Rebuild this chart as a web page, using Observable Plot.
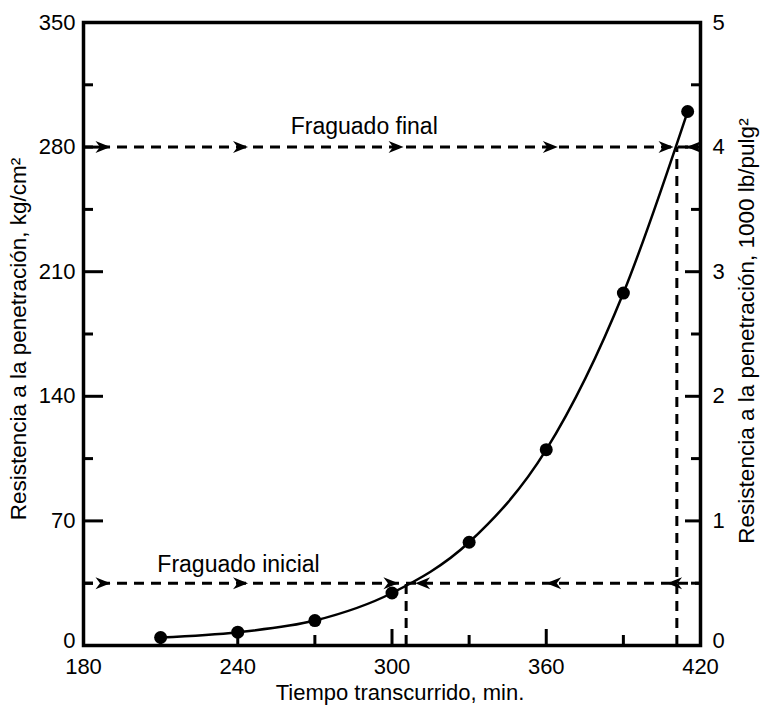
<!DOCTYPE html>
<html>
<head>
<meta charset="utf-8">
<script src="https://cdn.jsdelivr.net/npm/d3@7"></script>
<script src="https://cdn.jsdelivr.net/npm/@observablehq/plot@0.6"></script>
<style>
  html, body { margin: 0; padding: 0; background: #fff; }
  #chart svg { display: block; }
</style>
</head>
<body>
<div id="chart"></div>
<script>
// ---- data ----
const tiempo      = [210, 240, 270, 300, 330, 360, 390, 415];      // min
const resistencia = [4.5, 7.5, 14, 29.5, 58, 110, 198, 300];       // kg/cm2

const xMajorTicks = [180, 240, 300, 360, 420];
const xMinorTicks = [210, 270, 330, 390];
const yMajorTicks = [0, 70, 140, 210, 280, 350];
const yMinorTicks = [35, 105, 175, 245, 315];
const yRightLabels = ["0", "1", "2", "3", "4", "5"];  // 1000 lb/pulg2

const nivelInicial = 35;    // kg/cm2 (500 lb/pulg2)
const nivelFinal   = 280;   // kg/cm2 (4000 lb/pulg2)
const tiempoInicial = 305.5;
const tiempoFinal   = 410.8;

const flechasInicialDer = [190.5, 244, 302.5];
const flechasInicialIzq = [309, 360, 407];
const flechasFinalDer   = [190.5, 244, 304.5, 364.5, 409.5];
const flechasFinalIzq   = [414.6];

const etiquetas = ["Fraguado final", "Fraguado inicial"];
const etiquetaX = [289.2, 240.3];
const etiquetaY = [291.5, 45.7];

const tituloX  = "Tiempo transcurrido, min.";
const tituloY  = "Resistencia a la penetración, kg/cm²";
const tituloY2 = "Resistencia a la penetración, 1000 lb/pulg²";

// ---- tables built from the arrays ----
const datos = tiempo.map((t, i) => ({t, r: resistencia[i]}));
const notas = etiquetas.map((s, i) => ({s, x: etiquetaX[i], y: etiquetaY[i]}));
const yZero = yMajorTicks.slice(0, 1);
const yUpper = yMajorTicks.slice(1);
const rightLabel = d => yRightLabels[yMajorTicks.indexOf(d)];

const FONT = "'Liberation Sans', Arial, Helvetica, sans-serif";
const dash = "10,7";

// stealth-like arrowhead, tip at origin pointing right
const arrowHead = {
  draw(ctx) {
    ctx.moveTo(0, 0);
    ctx.lineTo(-15, -6);
    ctx.lineTo(-10.5, 0);
    ctx.lineTo(-15, 6);
    ctx.closePath();
  }
};

const chart = Plot.plot({
  width: 762,
  height: 705,
  marginLeft: 83,
  marginRight: 62,
  marginTop: 22,
  marginBottom: 60,
  style: `font-family: ${FONT}; font-size: 22px; color: #000; background: #fff; overflow: visible;`,
  x: {domain: [180, 420], label: null},
  y: {domain: [0, 350], label: null},
  marks: [
    // dashed guide lines
    Plot.ruleY([nivelFinal],   {x1: 180, x2: 420, stroke: "#000", strokeWidth: 3, strokeDasharray: dash}),
    Plot.ruleY([nivelInicial], {x1: 180, x2: 420, stroke: "#000", strokeWidth: 3, strokeDasharray: dash}),
    Plot.ruleX([tiempoFinal],   {y1: 0, y2: nivelFinal,   stroke: "#000", strokeWidth: 3, strokeDasharray: dash}),
    Plot.ruleX([tiempoInicial], {y1: 0, y2: nivelInicial, stroke: "#000", strokeWidth: 3, strokeDasharray: dash}),

    // arrowheads
    Plot.dot(flechasFinalDer,   {x: d => d, y: () => nivelFinal,   symbol: arrowHead, r: 7, fill: "#000", stroke: "none"}),
    Plot.dot(flechasFinalIzq,   {x: d => d, y: () => nivelFinal,   symbol: arrowHead, r: 7, fill: "#000", stroke: "none", rotate: 180}),
    Plot.dot(flechasInicialDer, {x: d => d, y: () => nivelInicial, symbol: arrowHead, r: 7, fill: "#000", stroke: "none"}),
    Plot.dot(flechasInicialIzq, {x: d => d, y: () => nivelInicial, symbol: arrowHead, r: 7, fill: "#000", stroke: "none", rotate: 180}),

    // curve and measured points
    Plot.line(datos, {x: "t", y: "r", curve: "monotone-x", stroke: "#000", strokeWidth: 2.5}),
    Plot.dot(datos, {x: "t", y: "r", r: 6.5, fill: "#000", stroke: "none"}),

    // annotations
    Plot.text(notas, {x: "x", y: "y", text: "s", fontSize: 23, fill: "#000", fontFamily: FONT}),

    // axes: inward ticks
    Plot.axisX(xMajorTicks, {anchor: "bottom", tickSize: -16, tickPadding: 29, strokeWidth: 3, fontSize: 22, fill: "#000", label: null, tickFormat: d => String(d)}),
    Plot.axisX(xMinorTicks, {anchor: "bottom", tickSize: -10, strokeWidth: 3, tickFormat: () => "", label: null}),
    Plot.axisY(yMajorTicks, {anchor: "left", tickSize: -20, tickPadding: 28, strokeWidth: 3, fontSize: 22, fill: "#000", label: null, tickFormat: d => d === 0 ? "" : String(d)}),
    Plot.axisY(yZero,  {anchor: "left", tickSize: 0, tickPadding: 8, fontSize: 22, fill: "#000", label: null, dy: -5, tickFormat: d => String(d)}),
    Plot.axisY(yMinorTicks, {anchor: "left", tickSize: -10, strokeWidth: 3, tickFormat: () => "", label: null}),
    Plot.axisY(yMajorTicks, {anchor: "right", tickSize: -16, tickPadding: 28, strokeWidth: 3, fontSize: 22, fill: "#000", label: null, tickFormat: d => d === 0 ? "" : rightLabel(d)}),
    Plot.axisY(yZero,  {anchor: "right", tickSize: 0, tickPadding: 12, fontSize: 22, fill: "#000", label: null, dy: -5, tickFormat: rightLabel}),
    Plot.axisY(yMinorTicks, {anchor: "right", tickSize: -10, strokeWidth: 3, tickFormat: () => "", label: null}),

    // frame
    Plot.frame({stroke: "#000", strokeWidth: 3.5}),

    // axis titles
    Plot.text([tituloX],  {text: d => d, frameAnchor: "bottom", textAnchor: "middle", lineAnchor: "middle", dx: 8, dy: 47, fontSize: 22, fill: "#000", fontFamily: FONT}),
    Plot.text([tituloY],  {text: d => d, frameAnchor: "left",  textAnchor: "middle", lineAnchor: "middle", rotate: -90, dx: -65, dy: 5, fontSize: 22.5, fill: "#000", fontFamily: FONT}),
    Plot.text([tituloY2], {text: d => d, frameAnchor: "right", textAnchor: "middle", lineAnchor: "middle", rotate: -90, dx: 46, dy: -3, fontSize: 22.5, fill: "#000", fontFamily: FONT})
  ]
});

document.getElementById("chart").appendChild(chart);
</script>
</body>
</html>
